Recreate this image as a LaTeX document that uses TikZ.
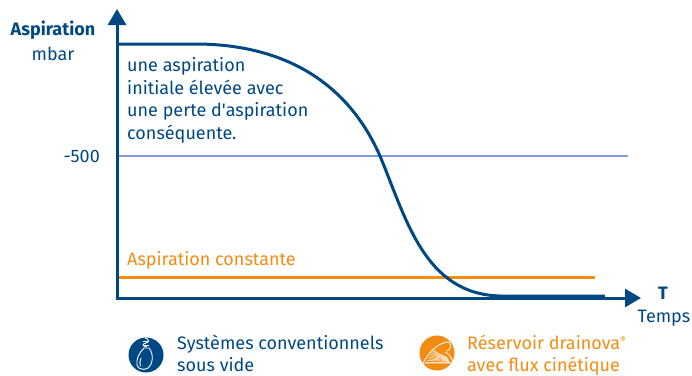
\documentclass[tikz,border=0pt]{standalone}
\usepackage{fontspec}
\setmainfont{Fira Sans}
\usetikzlibrary{arrows.meta}
\definecolor{dblue}{RGB}{0,72,132}
\definecolor{lblue}{RGB}{128,158,208}
\definecolor{orng}{RGB}{243,140,20}
\tikzset{
  axis/.style={draw=dblue, line width=3pt, -{Triangle[width=18pt,length=16pt]}},
  lbl/.style={text=dblue, font=\fontsize{18}{21}\selectfont, inner sep=0pt},
  olbl/.style={text=orng, font=\fontsize{18}{21}\selectfont, inner sep=0pt},
  blbl/.style={text=dblue, font=\fontsize{18}{21}\selectfont\bfseries, inner sep=0pt},
}
\begin{document}
\begin{tikzpicture}[x=1pt,y=-1pt]
\useasboundingbox (0,0) rectangle (692,375);
\coordinate (O) at (117,298);
\coordinate (ytip) at (117,9);
\coordinate (xtip) at (641,298);
\coordinate (m5a) at (117,156);
\coordinate (m5b) at (628,156);
\coordinate (ca) at (117,277);
\coordinate (cb) at (595,277);
% reference lines
\draw[lblue, line width=1.2pt] (m5a) -- (m5b);
\draw[orng, line width=3pt] (ca) -- (cb);
% curve
\coordinate (c0) at (117,44);
\coordinate (c1) at (195,44);
\coordinate (c2) at (380,156);
\coordinate (c3) at (500,296);
\coordinate (c4) at (605,296);
\draw[dblue, line width=3pt] (c0) -- (c1) .. controls (295,44) and (352,92) .. (c2)
  .. controls (406,218) and (424,294) .. (c3) -- (c4);
% axes
\draw[axis] (O) -- (ytip);
\draw[axis] ([xshift=-1.5pt]O) -- (xtip);
% labels
\node[blbl, anchor=base] (asp) at (53,35) {Aspiration};
\node[lbl, anchor=base] (mbar) at (53,60) {mbar};
\node[lbl, anchor=base east] (m500) at (100,162) {-500};
\node[blbl, anchor=base] (T) at (663,299) {T};
\node[lbl, anchor=base] (temps) at (664,322) {Temps};
\node[lbl, anchor=base west] (t1) at (127,71.5) {une aspiration};
\node[lbl, anchor=base west] (t2) at (127,94.2) {initiale élevée avec};
\node[lbl, anchor=base west] (t3) at (127,116.9) {une perte d\textquotesingle aspiration};
\node[lbl, anchor=base west] (t4) at (127,139.6) {conséquente.};
\node[olbl, anchor=base west] (cst) at (127,265) {Aspiration constante};
% legend icons
\fill[dblue] (146,355) circle (17.5);
\node[lbl, anchor=base west] (leg1) at (177,349) {Systèmes conventionnels};
\node[lbl, anchor=base west] (leg1b) at (177,371) {sous vide};
\fill[orng] (437,353) circle (17.5);
\node[olbl, anchor=base west] (leg2) at (467,349) {Réservoir drainova{\fontsize{9}{9}\selectfont\raisebox{6pt}{®}}};
\node[olbl, anchor=base west] (leg2b) at (467,371) {avec flux cinétique};
% blue icon: bottle
\begin{scope}[white, line width=0.9pt]
  \draw (145,338) .. controls (149,339) and (150,342) .. (146,343)
        .. controls (142,344) and (142,346) .. (147,347);
  \draw (143,341) -- (148,341) (143,345) -- (149,345);
  \draw (144,348) .. controls (139,353) and (136,359) .. (137,365)
        .. controls (138,370) and (145,370) .. (148,368)
        .. controls (153,364) and (154,354) .. (149,348) -- cycle;
  \draw (141,358) .. controls (139.5,361) and (139.5,364) .. (140.5,366);
\end{scope}
% orange icon: reservoir
\begin{scope}[white, line width=0.8pt]
  \draw (423,363) .. controls (430,350) and (440,342) .. (449,342)
        .. controls (452,345) and (450,350) .. (447,351);
  \draw (423,363) -- (453,363) .. controls (452,357) and (448,353) .. (445,352);
  \foreach \i in {0,...,8} {
    \draw[line width=0.45pt] (426+\i*0.9,362-\i*1.6) .. controls (436,362-\i*1.2) .. (450-\i*0.4,362-\i*0.6);
  }
\end{scope}
\end{tikzpicture}
\end{document}
